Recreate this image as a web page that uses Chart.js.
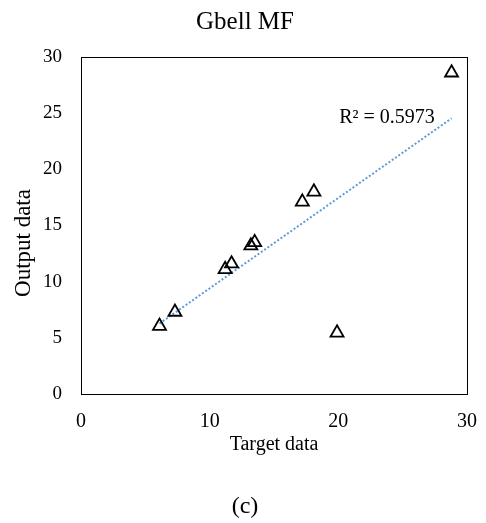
<!DOCTYPE html>
<html>
<head>
<meta charset="utf-8">
<script src="https://cdn.jsdelivr.net/npm/chart.js@4"></script>
<style>
  html, body { margin: 0; padding: 0; background: #fff; }
  #wrap { width: 486px; height: 523px; }
</style>
</head>
<body>
<div id="wrap"><canvas id="chart" width="486" height="523"></canvas></div>
<script>
// values
const targetData = [6.1, 7.3, 11.2, 11.7, 13.2, 13.5, 17.2, 18.1, 19.9, 28.8];
const outputData = [6.05, 7.3, 11.1, 11.6, 13.2, 13.5, 17.1, 18.0, 5.45, 28.6];
const xTicks = [0, 10, 20, 30];
const yTicks = [0, 5, 10, 15, 20, 25, 30];
const chartTitle = "Gbell MF";
const panelLabel = "(c)";
const xTitle = "Target data";
const yTitle = "Output data";
const r2Label = "R\u00B2 = 0.5973";

const points = targetData.map((x, i) => ({ x: x, y: outputData[i] }));

// linear trendline through the points (least squares), from min x to max x
const n = targetData.length;
const mx = targetData.reduce((a, b) => a + b, 0) / n;
const my = outputData.reduce((a, b) => a + b, 0) / n;
let sxy = 0, sxx = 0;
for (let i = 0; i < n; i++) {
    sxy += (targetData[i] - mx) * (outputData[i] - my);
    sxx += (targetData[i] - mx) ** 2;
}
const slope = sxy / sxx;
const icpt = my - slope * mx;
const xMin = Math.min(...targetData);
const xMax = Math.max(...targetData);
const trend = [{ x: xMin, y: icpt + slope * xMin }, { x: xMax, y: icpt + slope * xMax }];

const serif = "'Liberation Serif', 'Times New Roman', serif";

// box round the plot area, the texts that sit outside the axes, and the R² label
const frame = {
    id: "frame",
    afterDraw(chart) {
        const { ctx, chartArea: a, scales } = chart;
        ctx.save();
        ctx.strokeStyle = "#000";
        ctx.lineWidth = 1;
        ctx.strokeRect(Math.round(a.left) + 0.5, Math.round(a.top) + 0.5,
            Math.round(a.right - a.left), Math.round(a.bottom - a.top));

        ctx.fillStyle = "#000";
        ctx.textAlign = "center";
        ctx.textBaseline = "middle";
        ctx.font = "25px " + serif;
        ctx.fillText(chartTitle, 245, 22);
        ctx.font = "24px " + serif;
        ctx.fillText(panelLabel, 245, 507);

        ctx.save();
        ctx.translate(24, 243);
        ctx.rotate(-Math.PI / 2);
        ctx.font = "23px " + serif;
        ctx.fillText(yTitle, 0, 0);
        ctx.restore();

        ctx.font = "20px " + serif;
        ctx.textAlign = "right";
        ctx.fillText(r2Label, scales.x.getPixelForValue(27.5), scales.y.getPixelForValue(24.6));
        ctx.restore();
    }
};

new Chart(document.getElementById("chart"), {
    type: "scatter",
    data: {
        datasets: [
            {
                data: trend,
                showLine: true,
                borderColor: "#5B9BD5",
                borderWidth: 2,
                borderDash: [2, 2],
                pointRadius: 0,
                fill: false,
                order: 2
            },
            {
                data: points,
                pointStyle: "triangle",
                pointRadius: 7.5,
                pointBorderWidth: 1.8,
                pointBorderColor: "#000",
                pointBackgroundColor: "rgba(255,255,255,0)",
                order: 1
            }
        ]
    },
    options: {
        responsive: false,
        animation: false,
        layout: { padding: { top: 57, right: 19, bottom: 63, left: 0 } },
        plugins: {
            legend: { display: false },
            tooltip: { enabled: false }
        },
        scales: {
            x: {
                type: "linear",
                min: 0,
                max: 30,
                afterBuildTicks: s => { s.ticks = xTicks.map(v => ({ value: v })); },
                afterFit: s => { s.height = 66; s.paddingLeft = 0; s.paddingRight = 0; },
                grid: { display: false, drawTicks: false },
                border: { display: false },
                ticks: { color: "#000", font: { family: serif, size: 20 }, padding: 16, maxRotation: 0 },
                title: {
                    display: true,
                    text: xTitle,
                    color: "#000",
                    font: { family: serif, size: 20 },
                    padding: { top: 0, bottom: 3 }
                }
            },
            y: {
                type: "linear",
                min: 0,
                max: 30,
                afterBuildTicks: s => { s.ticks = yTicks.map(v => ({ value: v })); },
                afterFit: s => { s.width = 81; s.paddingTop = 0; s.paddingBottom = 0; },
                grid: { display: false, drawTicks: false },
                border: { display: false },
                ticks: { color: "#000", font: { family: serif, size: 19 }, padding: 19 }
            }
        }
    },
    plugins: [frame]
});
</script>
</body>
</html>
